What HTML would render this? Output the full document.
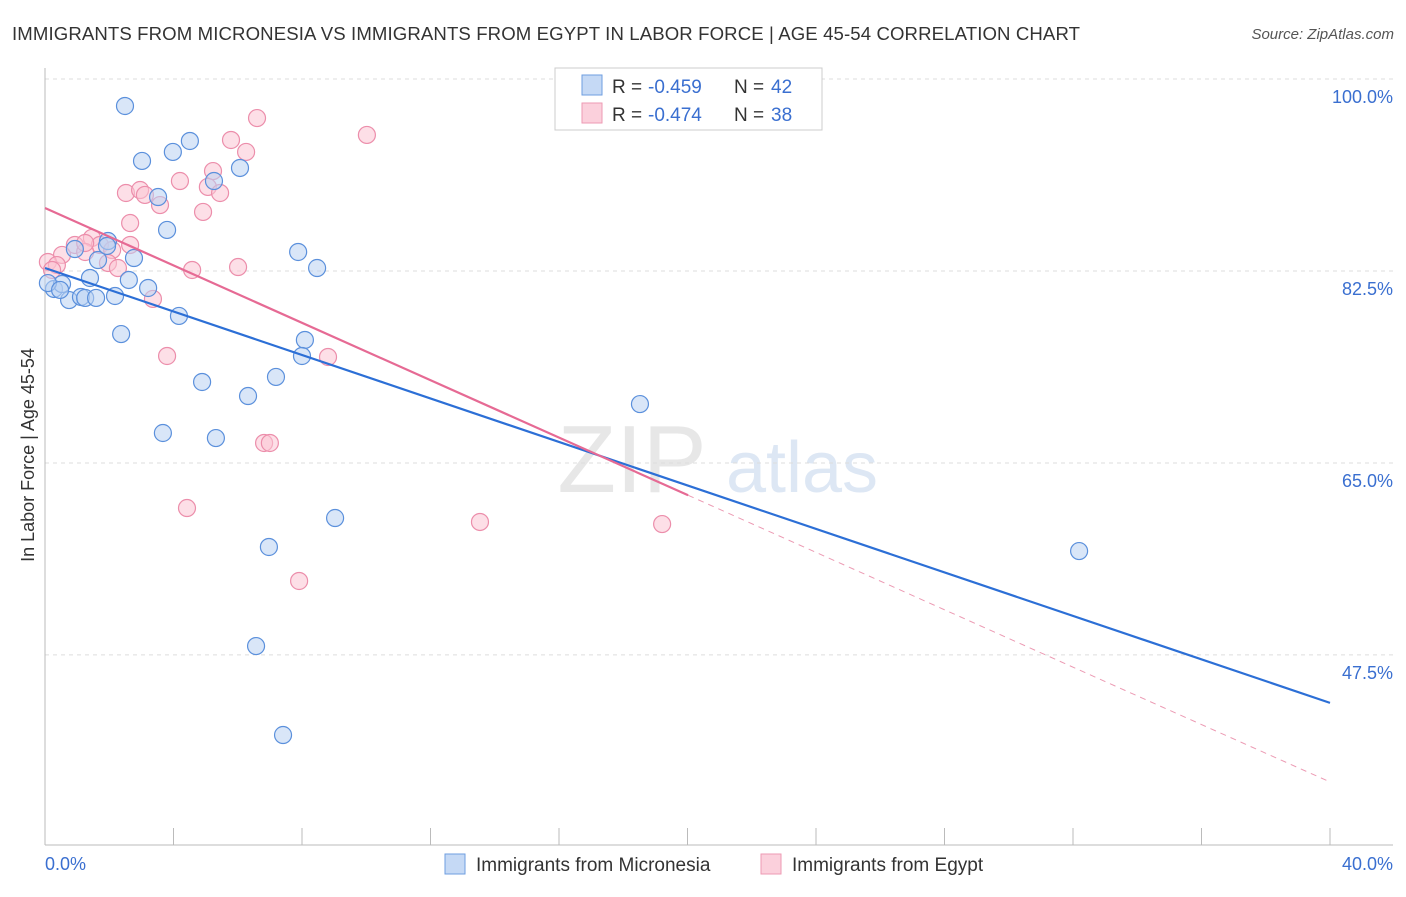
<!DOCTYPE html>
<html><head><meta charset="utf-8"><style>
body{margin:0;background:#fff;font-family:"Liberation Sans",sans-serif;}
svg text{font-family:"Liberation Sans",sans-serif;}
</style></head><body>
<svg width="1406" height="892" viewBox="0 0 1406 892">
<text x="12" y="40" font-size="18.6" fill="#333" textLength="1068">IMMIGRANTS FROM MICRONESIA VS IMMIGRANTS FROM EGYPT IN LABOR FORCE | AGE 45-54 CORRELATION CHART</text>
<text x="1394" y="39" font-size="15" fill="#555" font-style="italic" text-anchor="end">Source: ZipAtlas.com</text>
<g>
<text x="632" y="492" font-size="96" font-family="Liberation Serif" fill="#d8d8d8" text-anchor="middle" opacity="0.6">ZIP</text>
<text x="802" y="492" font-size="72" fill="#c8d8ee" text-anchor="middle" opacity="0.6">atlas</text>
</g>
<g id="grid"></g>
<g id="axes"></g>
<g id="marks"></g>
<text x="34" y="455" font-size="18" fill="#333" text-anchor="middle" transform="rotate(-90 34 455)">In Labor Force | Age 45-54</text>
<g>
<rect x="555" y="68" width="267" height="62" fill="#fff" stroke="#ccc"/>
<rect x="582" y="75" width="20" height="20" fill="#c5d9f5" stroke="#6e9ee0"/>
<rect x="582" y="103" width="20" height="20" fill="#fbd0dc" stroke="#ee9ab3"/>
<text x="612" y="93" font-size="19" fill="#333">R =</text>
<text x="648" y="93" font-size="19" fill="#3a6fd0">-0.459</text>
<text x="734" y="93" font-size="19" fill="#333">N =</text>
<text x="771" y="93" font-size="19" fill="#3a6fd0">42</text>
<text x="612" y="121" font-size="19" fill="#333">R =</text>
<text x="648" y="121" font-size="19" fill="#3a6fd0">-0.474</text>
<text x="734" y="121" font-size="19" fill="#333">N =</text>
<text x="771" y="121" font-size="19" fill="#3a6fd0">38</text>
</g>
<g>
<rect x="445" y="854" width="20" height="20" fill="#c5d9f5" stroke="#6e9ee0"/>
<text x="476" y="871" font-size="19" fill="#333">Immigrants from Micronesia</text>
<rect x="761" y="854" width="20" height="20" fill="#fbd0dc" stroke="#ee9ab3"/>
<text x="792" y="871" font-size="19" fill="#333">Immigrants from Egypt</text>
</g>
</svg>
<script>
const yTicks=[100,82.5,65,47.5];
const yTickLabels=["100.0%","82.5%","65.0%","47.5%"];
const xTickLabels=["0.0%","40.0%"];
const blueX=[2.49,3.02,3.98,4.51,6.07,3.52,5.26,3.80,1.96,0.93,2.77,1.65,1.40,2.61,0.28,0.53,0.09,0.75,1.12,1.25,1.59,2.18,3.21,4.17,2.37,7.88,8.47,8.09,8.00,7.19,4.89,6.32,18.52,3.67,5.32,9.03,6.97,32.19,6.57,7.41,1.93,0.47];
const blueY=[97.54,92.53,93.35,94.35,91.89,89.24,90.70,86.24,85.23,84.50,83.68,83.50,81.86,81.68,80.86,81.31,81.40,79.85,80.13,80.04,80.04,80.22,80.95,78.40,76.75,84.23,82.77,76.21,74.75,72.84,72.38,71.10,70.37,67.73,67.27,59.98,57.34,56.97,48.31,40.20,84.78,80.77];
const pinkX=[6.60,10.02,5.79,6.26,5.23,4.20,5.07,2.52,2.96,3.11,5.45,3.58,4.92,2.65,1.46,0.93,1.71,0.53,2.09,0.09,0.37,1.96,2.27,4.58,6.01,3.36,3.80,8.81,6.82,7.00,4.42,13.54,19.21,7.91,1.25,0.22,2.65,1.25];
const pinkY=[96.44,94.90,94.44,93.35,91.61,90.70,90.16,89.61,89.88,89.43,89.61,88.51,87.88,86.87,85.51,84.87,84.87,83.96,84.41,83.32,83.04,83.23,82.77,82.59,82.86,79.95,74.75,74.66,66.82,66.82,60.89,59.62,59.43,54.24,84.23,82.59,84.87,85.05];
const blueTrend=[82.77,-0.991];
const pinkTrend=[88.24,-1.308];
const pinkSolidEnd=20.02;
const NS="http://www.w3.org/2000/svg";
function sx(v){return 45+v*32.125;}
function sy(v){return 79+(100-v)*10.97;}
function mk(t,a,p){const e=document.createElementNS(NS,t);for(const k in a)e.setAttribute(k,a[k]);p.appendChild(e);return e;}
const grid=document.getElementById('grid'),axes=document.getElementById('axes'),marks=document.getElementById('marks');
yTicks.forEach((t,i)=>{
 const l=mk('line',{x1:45,x2:1393,y1:sy(t),y2:sy(t),stroke:'#ddd','stroke-dasharray':'4,4'},grid);
 
 
 const tx=mk('text',{x:1393,y:sy(t)+24,'font-size':18,fill:'#3a6fd0','text-anchor':'end'},axes);
 tx.textContent=yTickLabels[i];
 
 
});
mk('line',{x1:45,x2:45,y1:68,y2:845,stroke:'#bbb'},axes);
mk('line',{x1:45,x2:1393,y1:845,y2:845,stroke:'#bbb'},axes);
for(let k=0;k<=10;k++){
 const t=mk('line',{x1:sx(k*4),x2:sx(k*4),y1:828,y2:845,stroke:'#bbb'},axes);
 
 
}
const xl0=mk('text',{x:45,y:870,'font-size':18,fill:'#3a6fd0'},axes);xl0.textContent=xTickLabels[0];


const xl1=mk('text',{x:1393,y:870,'font-size':18,fill:'#3a6fd0','text-anchor':'end'},axes);xl1.textContent=xTickLabels[1];


function dots(X,Y,fill,stroke,name){X.forEach((x,i)=>{
 const c=mk('circle',{cx:sx(x),cy:sy(Y[i]),r:8.5,fill:fill,'fill-opacity':0.55,stroke:stroke,'stroke-width':1.2},marks);
 
 
});}
dots(pinkX,pinkY,'#fbc4d4','#ec8eab','egypt-point');
dots(blueX,blueY,'#b9d2f3','#5b90dc','micronesia-point');
const bl=mk('line',{x1:sx(0),y1:sy(blueTrend[0]),x2:sx(40),y2:sy(blueTrend[0]+blueTrend[1]*40),stroke:'#2c6fd6','stroke-width':2.2},marks);


const pl=mk('line',{x1:sx(0),y1:sy(pinkTrend[0]),x2:sx(pinkSolidEnd),y2:sy(pinkTrend[0]+pinkTrend[1]*pinkSolidEnd),stroke:'#e66a94','stroke-width':2.2},marks);


const pd=mk('line',{x1:sx(pinkSolidEnd),y1:sy(pinkTrend[0]+pinkTrend[1]*pinkSolidEnd),x2:sx(40),y2:sy(pinkTrend[0]+pinkTrend[1]*40),stroke:'#ec9ab3','stroke-width':1,'stroke-dasharray':'6,5'},marks);


</script>
</body></html>
